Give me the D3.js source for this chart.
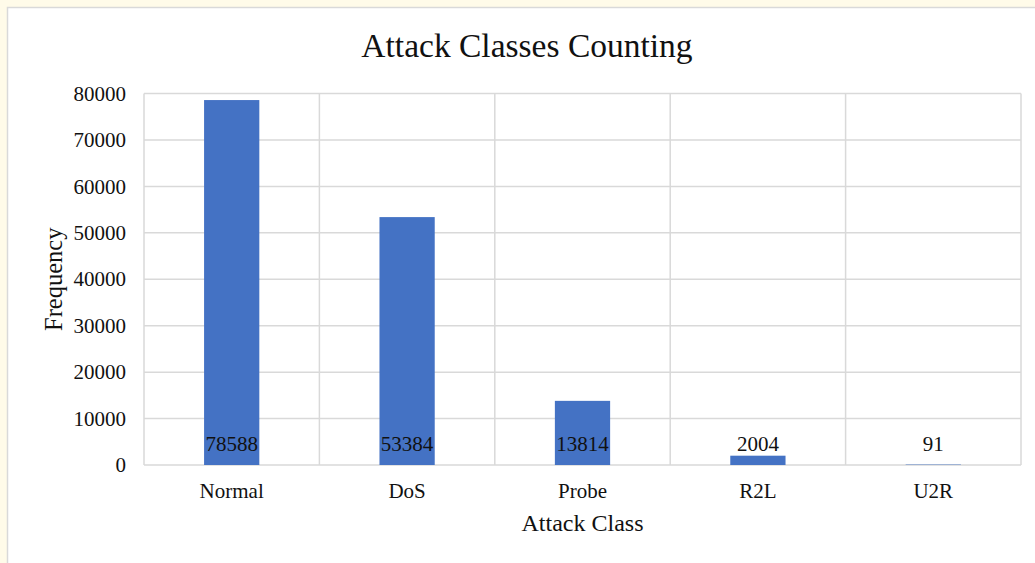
<!DOCTYPE html>
<html>
<head>
<meta charset="utf-8">
<script src="https://cdn.jsdelivr.net/npm/d3@7"></script>
<style>
  html, body { margin: 0; padding: 0; background: #fffbe9; }
  svg { display: block; }
  text { font-family: "Liberation Serif", "Times New Roman", serif; fill: #111; }
</style>
</head>
<body>
<svg id="chart" width="1035" height="563"></svg>
<script>
// Attack class counts
const categories = ["Normal", "DoS", "Probe", "R2L", "U2R"];
const counts = [78588, 53384, 13814, 2004, 91];
const yTicks = [0, 10000, 20000, 30000, 40000, 50000, 60000, 70000, 80000];

const svg = d3.select("#chart");
const W = 1035, H = 563;

// chart frame
svg.append("rect")
  .attr("x", 7.5).attr("y", 7.5)
  .attr("width", W).attr("height", H)
  .attr("fill", "#fff").attr("stroke", "#d9d9d9").attr("stroke-width", 1.5);

const plot = { left: 144, right: 1021, top: 93.5, bottom: 465 };

const x = d3.scaleBand()
  .domain(categories)
  .range([plot.left, plot.right])
  .paddingInner(0).paddingOuter(0);

const y = d3.scaleLinear()
  .domain([0, 80000])
  .range([plot.bottom, plot.top]);

const barW = x.bandwidth() * 0.315;

// horizontal gridlines
svg.append("g")
  .selectAll("line")
  .data(yTicks)
  .join("line")
  .attr("x1", plot.left).attr("x2", plot.right)
  .attr("y1", d => y(d)).attr("y2", d => y(d))
  .attr("stroke", "#d9d9d9").attr("stroke-width", 1.5);

// vertical gridlines at category boundaries
const bounds = categories.map(c => x(c)).concat([plot.right]);
svg.append("g")
  .selectAll("line")
  .data(bounds)
  .join("line")
  .attr("x1", d => d).attr("x2", d => d)
  .attr("y1", plot.top).attr("y2", plot.bottom)
  .attr("stroke", "#d9d9d9").attr("stroke-width", 1.5);

// bars
svg.append("g")
  .selectAll("rect")
  .data(categories)
  .join("rect")
  .attr("x", d => x(d) + x.bandwidth() / 2 - barW / 2)
  .attr("width", barW)
  .attr("y", (d, i) => y(counts[i]))
  .attr("height", (d, i) => y(0) - y(counts[i]))
  .attr("fill", "#4472c4");

// value labels at the bar base
svg.append("g")
  .selectAll("text")
  .data(categories)
  .join("text")
  .attr("x", d => x(d) + x.bandwidth() / 2)
  .attr("y", y(0) - 14)
  .attr("text-anchor", "middle")
  .attr("font-size", 21)
  .text((d, i) => counts[i]);

// y axis tick labels
const yAxis = d3.axisLeft(y).tickValues(yTicks).tickSize(0).tickPadding(0).tickFormat(d3.format("d"));
const yg = svg.append("g").attr("transform", `translate(${plot.left - 18},0)`).call(yAxis);
yg.select(".domain").remove();
yg.selectAll("text").attr("font-size", 21).attr("font-family", "Liberation Serif, serif").attr("fill", "#111");

// x axis category labels
const xAxis = d3.axisBottom(x).tickSize(0).tickPadding(0);
const xg = svg.append("g").attr("transform", `translate(0,${plot.bottom + 18})`).call(xAxis);
xg.select(".domain").remove();
xg.selectAll("text").attr("font-size", 21).attr("font-family", "Liberation Serif, serif").attr("fill", "#111");

// title
svg.append("text")
  .attr("x", 527).attr("y", 57)
  .attr("text-anchor", "middle")
  .attr("font-size", 33.5)
  .text("Attack Classes Counting");

// axis titles
svg.append("text")
  .attr("x", (plot.left + plot.right) / 2).attr("y", 531)
  .attr("text-anchor", "middle")
  .attr("font-size", 24)
  .text("Attack Class");

svg.append("text")
  .attr("transform", `translate(62,${(plot.top + plot.bottom) / 2}) rotate(-90)`)
  .attr("text-anchor", "middle")
  .attr("font-size", 24.5)
  .text("Frequency");
</script>
</body>
</html>
